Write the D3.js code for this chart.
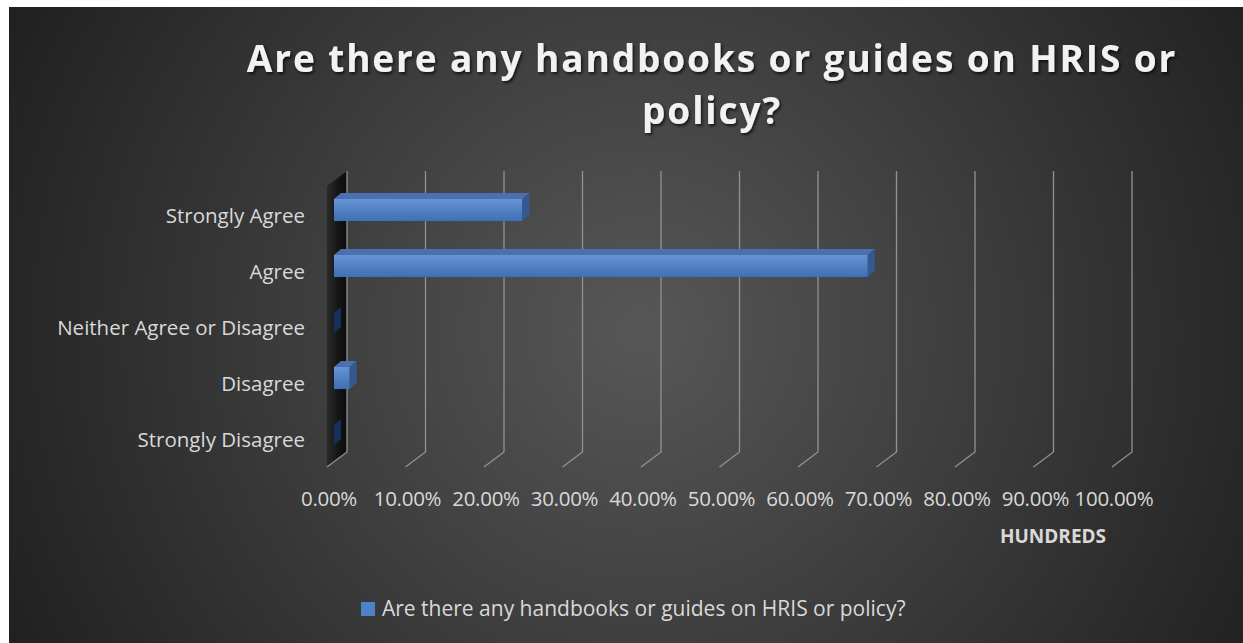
<!DOCTYPE html>
<html><head><meta charset="utf-8">
<script src="https://cdn.jsdelivr.net/npm/d3@7"></script>
<style>html,body{margin:0;padding:0;background:#fff;overflow:hidden}</style>
</head><body><svg id="c" width="1243" height="643"></svg>
<script>
const categories = ["Strongly Agree","Agree","Neither Agree or Disagree","Disagree","Strongly Disagree"];
const values = [0.24, 0.68, 0, 0.02, 0];
const ticks = [0,0.1,0.2,0.3,0.4,0.5,0.6,0.7,0.8,0.9,1.0];
const seriesName = "Are there any handbooks or guides on HRIS or policy?";
const titleLines = ["Are there any handbooks or guides on HRIS or","policy?"];

const svg = d3.select("#c");
const defs = svg.append("defs");
const rg = defs.append("radialGradient").attr("id","bg").attr("gradientUnits","userSpaceOnUse")
  .attr("cx",640).attr("cy",330).attr("r",720);
rg.append("stop").attr("offset","0").attr("stop-color","#575757");
rg.append("stop").attr("offset","1").attr("stop-color","#1f1f1f");
const bgr = defs.append("linearGradient").attr("id","barg").attr("x1",0).attr("y1",0).attr("x2",0).attr("y2",1);
bgr.append("stop").attr("offset","0").attr("stop-color","#6593d4");
bgr.append("stop").attr("offset","1").attr("stop-color","#3f6fb5");
const wg = defs.append("linearGradient").attr("id","wallg").attr("x1",0).attr("y1",0).attr("x2",1).attr("y2",0);
wg.append("stop").attr("offset","0").attr("stop-color","#2a2a2a");
wg.append("stop").attr("offset","0.6").attr("stop-color","#141414");
wg.append("stop").attr("offset","1").attr("stop-color","#0c0c0c");
const sh = defs.append("filter").attr("id","tsh").attr("x","-5%").attr("y","-20%").attr("width","110%").attr("height","140%");
sh.append("feDropShadow").attr("dx",1.5).attr("dy",2).attr("stdDeviation",1.5).attr("flood-color","#000").attr("flood-opacity",0.7);

svg.append("rect").attr("x",9).attr("y",7).attr("width",1234).attr("height",636).attr("fill","url(#bg)");

// title
svg.append("g").attr("filter","url(#tsh)").selectAll("text").data(titleLines).join("text")
  .attr("x",712).attr("y",(d,i)=>72+i*52).attr("text-anchor","middle")
  .attr("font-family","'Open Sans',sans-serif").attr("font-weight","bold").attr("font-size",37)
  .attr("letter-spacing",1.9).attr("fill","#f2f2f2").text(d=>d);

// geometry
const wallX = 347, plotTop = 171, plotBottom = 452, dx = -20, dy = 15;
const xBack = d3.scaleLinear().domain([0,1]).range([wallX, wallX+785]);
const xFront = d3.scaleLinear().domain([0,1]).range([wallX+dx, wallX+dx+785]);
const xBar = d3.scaleLinear().domain([0,1]).range([334, 334+785]);
const y = d3.scaleBand().domain(categories).range([182, 462]).paddingInner(0.6).paddingOuter(0.3);

// left wall
svg.append("path").attr("d",`M${wallX},${plotTop}L${wallX},${plotBottom}L${wallX+dx},${plotBottom+dy}L${wallX+dx},${plotTop+dy}Z`).attr("fill","url(#wallg)");

// gridlines
svg.append("g").selectAll("path").data(ticks).join("path")
  .attr("d",d=>`M${xBack(d)},${plotTop}L${xBack(d)},${plotBottom}L${xFront(d)},${plotBottom+dy}`)
  .attr("fill","none").attr("stroke","#929292").attr("stroke-width",1.3);

// bars
const bd = 7, bh = 6; // depth offsets
const bars = svg.append("g").selectAll("g").data(categories.map((c,i)=>({c,v:values[i]}))).join("g");
bars.each(function(d){
  const g = d3.select(this);
  const x0 = xBar(0), x1 = xBar(d.v), yc = y(d.c) + y.bandwidth()/2;
  const y0 = yc - 11, y1 = yc + 11;
  if (d.v > 0) {
    g.append("path").attr("d",`M${x0},${y0}L${x0+bd},${y0-bh}L${x1+bd},${y0-bh}L${x1},${y0}Z`).attr("fill","#4a70ad");
    g.append("rect").attr("x",x0).attr("y",y0).attr("width",x1-x0).attr("height",y1-y0).attr("fill","url(#barg)");
    g.append("path").attr("d",`M${x1},${y0}L${x1+bd},${y0-bh}L${x1+bd},${y1-bh}L${x1},${y1}Z`).attr("fill","#34588f");
  } else {
    g.append("path").attr("d",`M${x0},${y0+2}L${x0+bd},${y0-bh+2}L${x0+bd},${y1-bh}L${x0},${y1}Z`).attr("fill","#17305a");
  }
});

// category labels
svg.append("g").selectAll("text").data(categories).join("text")
  .attr("x",305).attr("y",d=>y(d)+y.bandwidth()/2+13).attr("text-anchor","end")
  .attr("font-family","'Open Sans',sans-serif").attr("font-size",20.5).attr("fill","#d9d9d9").text(d=>d);

// tick labels
const fmt = d3.format(".2%");
svg.append("g").selectAll("text").data(ticks).join("text")
  .attr("x",d=>xFront(d)+2).attr("y",506).attr("text-anchor","middle")
  .attr("font-family","'Open Sans',sans-serif").attr("font-size",20.5).attr("letter-spacing",-0.3).attr("fill","#d9d9d9").text(d=>fmt(d));

svg.append("text").attr("x",1053).attr("y",543).attr("text-anchor","middle")
  .attr("font-family","'Open Sans',sans-serif").attr("font-weight","bold").attr("font-size",19).attr("fill","#d9d9d9").text("HUNDREDS");

// legend
svg.append("rect").attr("x",361).attr("y",602).attr("width",14).attr("height",14).attr("fill","#4f81c7");
svg.append("text").attr("x",382).attr("y",616).attr("font-family","'Open Sans',sans-serif").attr("font-size",21)
  .attr("fill","#d9d9d9").text(seriesName);
</script></body></html>
